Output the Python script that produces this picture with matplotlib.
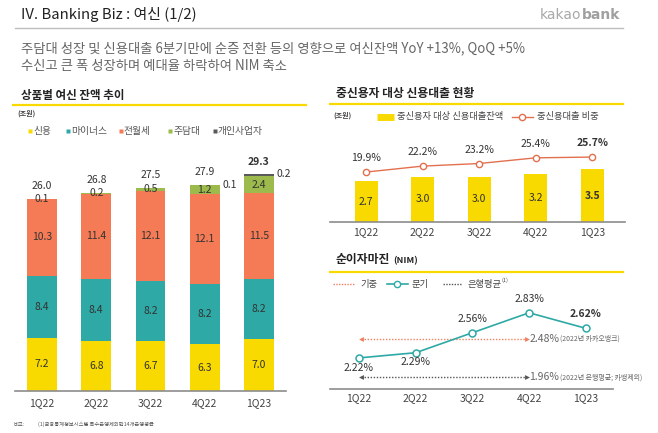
import numpy as np
import matplotlib
matplotlib.use('Agg')
import matplotlib.pyplot as plt

plt.rcParams['font.family'] = ['Noto Sans CJK KR', 'DejaVu Sans']

W, H = 658, 433

quarters = ['1Q22', '2Q22', '3Q22', '4Q22', '1Q23']

# 상품별 여신 잔액 (조원)
loan_types = ['신용', '마이너스', '전월세', '주담대', '개인사업자']
credit = [7.2, 6.8, 6.7, 6.3, 7.0]
minus = [8.4, 8.4, 8.2, 8.2, 8.2]
jeonse = [10.3, 11.4, 12.1, 12.1, 11.5]
mortgage = [0.1, 0.2, 0.5, 1.2, 2.4]
sole_prop = [0.0, 0.0, 0.0, 0.1, 0.2]
loan_totals = [26.0, 26.8, 27.5, 27.9, 29.3]

# 중신용자 대상 신용대출 (조원, %)
mid_balance = [2.7, 3.0, 3.0, 3.2, 3.5]
mid_share = [19.9, 22.2, 23.2, 25.4, 25.7]

# 순이자마진 (%)
nim = [2.22, 2.29, 2.56, 2.83, 2.62]
nim_kakao_2022 = 2.48
nim_bank_avg_2022 = 1.96

YELLOW = '#F8DA00'
TEAL = '#2EA9A5'
ORANGE = '#F47B55'
GREEN = '#9CBB4C'
DGRAY = '#5A5A5A'
TXT = '#333333'
loan_colors = [YELLOW, TEAL, ORANGE, GREEN, DGRAY]

fig = plt.figure(figsize=(W / 100, H / 100), dpi=100)


def axes_px(left, top, right, bottom):
    # axes placed by pixel box (top-left origin)
    return fig.add_axes([left / W, 1 - bottom / H, (right - left) / W, (bottom - top) / H])


# background layer for headings, rules and legends, pixel coords
bg = fig.add_axes([0, 0, 1, 1])
bg.set_xlim(0, W)
bg.set_ylim(H, 0)
bg.axis('off')

bg.text(21, 15, 'IV. Banking Biz : 여신 (1/2)', fontsize=10.7, color='#222222', va='center')
bank = bg.text(620, 15, 'bank', fontsize=10, color='#A0A0A0', ha='right', va='center',
               family='DejaVu Sans', fontweight='bold')
fig.canvas.draw()
bank_left = bank.get_window_extent().x0  # display px == figure px at dpi 100
bg.text(bank_left - 0.5, 15, 'kakao', fontsize=10, color='#A8A8A8', ha='right', va='center',
        family='DejaVu Sans')
bg.plot([15, 623], [28, 28], color='#BDBDBD', lw=1)

bg.text(21, 48, '주담대 성장 및 신용대출 6분기만에 순증 전환 등의 영향으로 여신잔액 YoY +13%, QoQ +5%',
        fontsize=9.55, color='#666666', va='center')
bg.text(21, 66, '수신고 큰 폭 성장하며 예대율 하락하여 NIM 축소', fontsize=9.55, color='#666666', va='center')

# section headings
bg.text(21, 95, '상품별 여신 잔액 추이', fontsize=8.3, fontweight='bold', color='#222222', va='center')
bg.plot([13, 306], [105, 105], color=YELLOW, lw=1.6)
bg.text(336, 93, '중신용자 대상 신용대출 현황', fontsize=8.5, fontweight='bold', color='#222222', va='center')
bg.plot([330, 623], [104, 104], color=YELLOW, lw=1.6)
bg.text(336, 260, '순이자마진', fontsize=8.5, fontweight='bold', color='#222222', va='center')
bg.text(393, 261, '(NIM)', fontsize=6.5, fontweight='bold', color='#222222', va='center')
bg.plot([330, 623], [272, 272], color=YELLOW, lw=1.6)

# left legend
bg.text(17, 113, '(조원)', fontsize=5, fontweight='bold', color='#444444', va='center')
for lx, name, col in zip([30, 68, 121, 170, 215], loan_types, loan_colors):
    bg.plot(lx, 131, marker='s', ms=3.4, color=col, mec='none')
    bg.text(lx + 3, 131, name, fontsize=7, color='#555555', va='center')

# right-top legend
bg.text(333, 115, '(조원)', fontsize=5, fontweight='bold', color='#444444', va='center')
bg.plot([377, 394], [117, 117], color=YELLOW, lw=5, solid_capstyle='butt')
bg.text(397, 117, '중신용자 대상 신용대출잔액', fontsize=6.7, color='#444444', va='center')
bg.plot([512, 533], [117, 117], color='#E2704F', lw=1)
bg.plot(522, 117, marker='o', ms=4.5, mfc='white', mec='#E2704F', mew=1)
bg.text(537, 117, '중신용대출 비중', fontsize=6.7, color='#444444', va='center')

# right-bottom legend
bg.plot([333, 355], [284, 284], color='#F08060', lw=1, ls=(0, (1, 1)))
bg.text(360, 284, '기중', fontsize=6.7, color='#444444', va='center')
bg.plot([387, 408], [284, 284], color=TEAL, lw=1.2)
bg.plot(397, 284, marker='o', ms=4.5, mfc='white', mec=TEAL, mew=1)
bg.text(412, 284, '분기', fontsize=6.7, color='#444444', va='center')
bg.plot([443, 462], [284, 284], color='#555555', lw=1, ls=(0, (1, 1)))
bg.text(467, 284, '은행평균', fontsize=6.7, color='#444444', va='center')
bg.text(501, 280, '(1)', fontsize=4, color='#444444', va='center')

# footnote
bg.text(13, 424, '비고:', fontsize=3.8, color='#555555', va='center')
bg.text(38, 424, '(1)금융통계정보시스템 특수은행제외한14개은행평균', fontsize=3.8, color='#555555', va='center')

x = np.arange(len(quarters))

# ---- 상품별 여신 잔액 추이 (stacked bars)
ax1 = axes_px(15, 150, 286, 391)
ax1.patch.set_alpha(0)
stack = [credit, minus, jeonse, mortgage, sole_prop]
bottom = np.zeros(len(quarters))
for vals, col in zip(stack, loan_colors):
    vals = np.array(vals)
    ax1.bar(x, vals, 0.55, bottom=bottom, color=col, linewidth=0)
    for i, v in enumerate(vals):
        if v <= 0:
            continue
        if col == DGRAY:
            ax1.text(i + 0.33, bottom[i] + v, f'{v:.1f}', fontsize=7.5, color=TXT, ha='left', va='center')
        else:
            ax1.text(i, bottom[i] + v / 2, f'{v:.1f}', fontsize=7.5, color=TXT, ha='center', va='center')
    bottom += vals
for i, t in enumerate(loan_totals):
    ax1.annotate(f'{t:.1f}', (i, bottom[i]), xytext=(0, 9), textcoords='offset points',
                 ha='center', va='center', fontsize=7.5, color=TXT,
                 fontweight='bold' if i == len(quarters) - 1 else 'normal')
ax1.set_xlim(-0.5, 4.5)
ax1.set_ylim(0, 241 / 7.4)

# ---- 중신용자 대상 신용대출 현황
ax2 = axes_px(330, 140, 625, 222)
ax2.patch.set_alpha(0)
ax2.bar(x, mid_balance, 0.41, color=YELLOW, linewidth=0)
for i, v in enumerate(mid_balance):
    ax2.text(i, v / 2, f'{v:.1f}', fontsize=7.5, color=TXT, ha='center', va='center',
             fontweight='bold' if i == len(quarters) - 1 else 'normal')
ax2.set_xlim(-0.64, 4.58)
ax2.set_ylim(0, 82 / 15.1)
ax2b = ax2.twinx()
ax2b.plot(x, mid_share, color='#E2704F', lw=1, marker='o', ms=4.5, mfc='white', mec='#E2704F', mew=1)
for i, v in enumerate(mid_share):
    ax2b.annotate(f'{v:.1f}%', (i, v), xytext=(0, 10), textcoords='offset points',
                  ha='center', va='center', fontsize=7.5, color=TXT,
                  fontweight='bold' if i == len(quarters) - 1 else 'normal')
ax2b.set_ylim(0.57, 32.3)
ax2b.axis('off')

# ---- 순이자마진 (NIM)
ax3 = axes_px(330, 295, 613, 389)
ax3.patch.set_alpha(0)
ax3.plot(x, nim, color=TEAL, lw=1.2, marker='o', ms=5, mfc='white', mec=TEAL, mew=1.1, zorder=3)
for i, v in enumerate(nim):
    below = i < 2
    ax3.annotate(f'{v:.2f}%', (i, v), xytext=(0, -7 if below else 10), textcoords='offset points',
                 ha='center', va='center', fontsize=7.5, color=TXT,
                 fontweight='bold' if i == len(quarters) - 1 else 'normal')
for ref, col, note in [(nim_kakao_2022, '#F08060', '(2022년 카카오뱅크)'),
                       (nim_bank_avg_2022, '#555555', '(2022년 은행평균; 카뱅제외)')]:
    ax3.plot([0.04, 2.96], [ref, ref], color=col, lw=1, ls=(0, (1, 1.2)), clip_on=False)
    ax3.plot(0.04, ref, marker='<', ms=3.5, color=col, mec='none', clip_on=False)
    ax3.plot(2.96, ref, marker='>', ms=3.5, color=col, mec='none', clip_on=False)
    ax3.text(3.0, ref, f'{ref:.2f}%', fontsize=7.5, color='#666666', va='center', clip_on=False)
    ax3.text(3.55, ref, note, fontsize=5, color='#666666', va='center', clip_on=False)
ax3.set_xlim(-0.51, 4.48)
ax3.set_ylim(1.80, 3.07)

for ax, pad in [(ax1, 5), (ax2, 3.5), (ax3, 3)]:
    for s in ['top', 'left', 'right']:
        ax.spines[s].set_visible(False)
    ax.spines['bottom'].set_color('#8C8C8C')
    ax.spines['bottom'].set_linewidth(1.2)
    ax.set_xticks(x, quarters)
    ax.tick_params(axis='x', length=0, pad=pad, labelsize=7.5, labelcolor='#444444')
    ax.set_yticks([])

fig.savefig('out.png', dpi=100)
